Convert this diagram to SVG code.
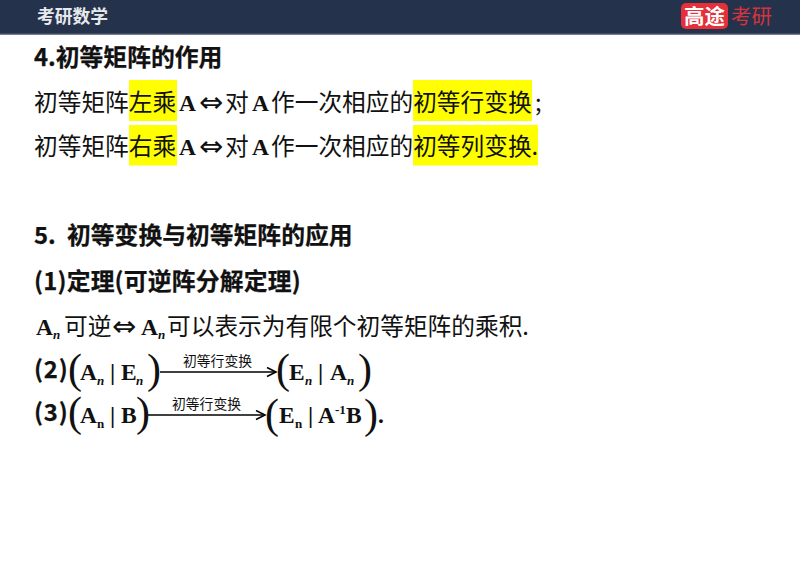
<svg xmlns="http://www.w3.org/2000/svg" width="800" height="566" viewBox="0 0 800 566">
<defs>
<marker id="arr" markerUnits="userSpaceOnUse" markerWidth="12" markerHeight="12" refX="10" refY="5" orient="auto"><path d="M1 0.5L10 5L1 9.5" fill="none" stroke="#000" stroke-width="1.6"/></marker>
</defs>
<style>
text{font-family:"Noto Sans CJK SC","Noto Sans",sans-serif;fill:#111}
.b{font-weight:700;font-size:23.8px;stroke:#111;stroke-width:.25px}
.r{font-size:23.7px}
.m{font-family:"Liberation Serif",serif;font-weight:700;font-size:23.500px}
.a{font-family:"DejaVu Sans",sans-serif;font-size:29px}
.i{font-family:"Liberation Serif",serif;font-weight:700;font-style:italic;font-size:13px}
.s{font-family:"Liberation Serif",serif;font-weight:700;font-size:13px}
.p{font-family:"Liberation Serif",serif;font-size:42px}
.t{font-size:13.8px}
.hl{fill:#ffff00}
.c{stroke:#000;stroke-width:1.6;fill:none;marker-end:url(#arr)}
</style>
<rect width="800" height="34.5" fill="#25324b"/>
<rect y="33.5" width="800" height="1" fill="#5b6477"/>
<text x="37" y="23" font-size="17.8" font-weight="700" style="fill:#e6e8ec">考研数学</text>
<g id="logo">
<rect x="681" y="3" width="47" height="26" rx="5" fill="#e5303a"/>
<text x="684" y="24" font-size="20.5" font-weight="700" style="fill:#fff">高途</text>
<text x="731" y="24" font-size="20.5" style="fill:#d8333d">考研</text>
</g>
<rect class="hl" x="129" y="80" width="48" height="41"/>
<rect class="hl" x="413" y="80" width="119" height="41"/>
<rect class="hl" x="129" y="125" width="48" height="40.500"/>
<rect class="hl" x="413" y="125" width="125" height="40.500"/>
<text class="b" x="34" y="66">4.初等矩阵的作用</text>
<text class="r" x="34" y="111">初等矩阵左乘</text>
<text class="m" x="179" y="111">A</text>
<text class="a" x="199" y="112">⇔</text>
<text class="r" x="225" y="111">对</text>
<text class="m" x="252" y="111">A</text>
<text class="r" x="271" y="111">作一次相应的初等行变换</text>
<text class="r" x="535" y="111">;</text>
<text class="r" x="34" y="155">初等矩阵右乘</text>
<text class="m" x="179" y="155">A</text>
<text class="a" x="199" y="156">⇔</text>
<text class="r" x="225" y="155">对</text>
<text class="m" x="252" y="155">A</text>
<text class="r" x="271" y="155">作一次相应的初等列变换.</text>
<text class="b" x="34" y="244">5.</text>
<text class="b" x="67" y="244">初等变换与初等矩阵的应用</text>
<text class="b" x="34" y="290" letter-spacing=".2">(1)定理(可逆阵分解定理)</text>
<text class="m" x="36" y="335">A</text><text class="i" x="53" y="339">n</text>
<text class="r" x="64" y="335">可逆</text>
<text class="a" x="112" y="336">⇔</text>
<text class="m" x="141" y="335">A</text><text class="i" x="158" y="339">n</text>
<text class="r" x="167" y="335">可以表示为有限个初等矩阵的乘积.</text>
<text class="b" x="34" y="378" letter-spacing=".8">(2)</text>
<text class="p" x="68" y="383">(</text>
<text class="m" x="80" y="380">A</text><text class="i" x="97" y="385">n</text>
<text class="m" x="110" y="380" font-weight="400">|</text>
<text class="m" x="121" y="380">E</text><text class="i" x="136" y="385">n</text>
<text class="p" x="147" y="383">)</text>
<text class="t" x="183" y="366">初等行变换</text>
<text class="p" x="276" y="383">(</text>
<text class="m" x="289" y="380">E</text><text class="i" x="305" y="385">n</text>
<text class="m" x="318" y="380">|</text>
<text class="m" x="330" y="380">A</text><text class="i" x="347" y="385">n</text>
<text class="p" x="358" y="383">)</text>
<text class="b" x="34" y="421" letter-spacing=".8">(3)</text>
<text class="p" x="68" y="426">(</text>
<text class="m" x="80" y="423">A</text><text class="s" x="97" y="428">n</text>
<text class="m" x="110" y="423">|</text>
<text class="m" x="121" y="423">B</text>
<text class="p" x="136" y="426">)</text>
<text class="t" x="172" y="409">初等行变换</text>
<text class="p" x="265" y="428" font-size="46">(</text>
<text class="m" x="279" y="423">E</text><text class="s" x="295" y="428">n</text>
<text class="m" x="308" y="423">|</text>
<text class="m" x="318" y="423">A</text>
<text class="s" x="335" y="414">-1</text>
<text class="m" x="346" y="423">B</text>
<text class="p" x="364" y="428" font-size="46">)</text>
<text class="m" x="378" y="423" font-weight="400">.</text>
<g id="connectors">
<path class="c" d="M160 372H276"/>
<path class="c" d="M148 415H265"/>
</g>
</svg>
